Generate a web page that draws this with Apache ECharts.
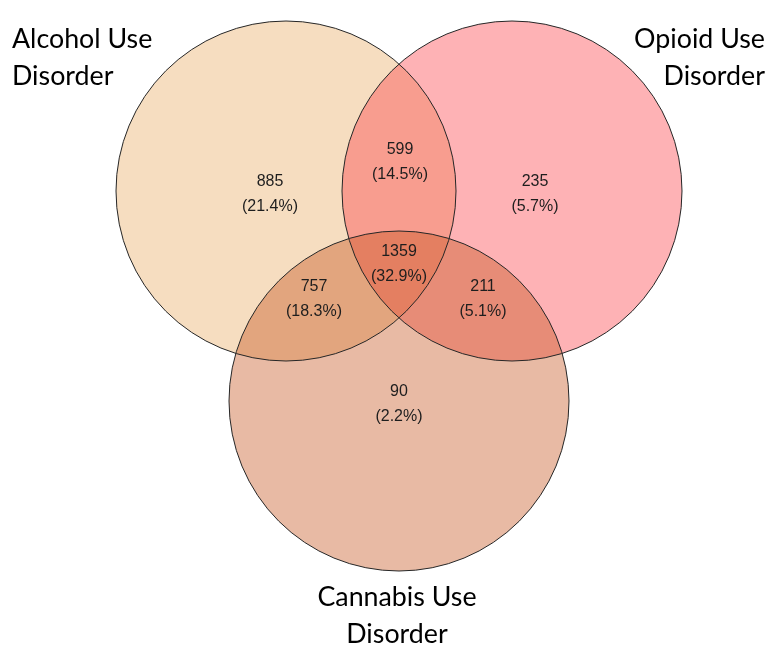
<!DOCTYPE html>
<html>
<head>
<meta charset="utf-8">
<script src="https://cdn.jsdelivr.net/npm/echarts@6/dist/echarts.min.js"></script>
<style>
html,body{margin:0;padding:0;background:#fff;}
#chart{width:767px;height:650px;}
</style>
</head>
<body>
<div id="chart"></div>
<script>
// ---- data ----
const setNames = ['Alcohol Use\nDisorder', 'Opioid Use\nDisorder', 'Cannabis Use\nDisorder'];
// regions: A only, O only, A∩O, C only, A∩C, O∩C, A∩O∩C
const regionKeys = ['A', 'O', 'AO', 'C', 'AC', 'OC', 'AOC'];
const regionCounts = [885, 235, 599, 90, 757, 211, 1359];

// ---- layout (pixel space of the 767x650 canvas) ----
const circleCenters = [[286, 191], [512, 191], [399, 401]];
const circleRadius = 170;
const regionLabelPos = [[270, 194], [535, 194], [400, 162], [399, 404], [314, 299], [483, 299], [399, 264]];
const setLabelPos = [[12, 58, 'left'], [765, 58, 'right'], [397, 616, 'center']];
const setColors = ['rgba(233,170,98,0.4)', 'rgba(253,63,70,0.4)', 'rgba(198,83,28,0.4)'];

const total = regionCounts.reduce((a, b) => a + b, 0);
const regionData = regionKeys.map((k, i) => [
  regionLabelPos[i][0], regionLabelPos[i][1], regionCounts[i],
  (regionCounts[i] / total * 100).toFixed(1)
]);
const circleData = setNames.map((n, i) => [circleCenters[i][0], circleCenters[i][1], circleRadius, i]);
const setLabelData = setNames.map((n, i) => [setLabelPos[i][0], setLabelPos[i][1], i]);

const chart = echarts.init(document.getElementById('chart'), null, {renderer: 'canvas'});

function circleItem(fill, stroke) {
  return function (params, api) {
    const c = api.coord([api.value(0), api.value(1)]);
    const r = api.size([api.value(2), 0])[0];
    const i = api.value(3);
    return {
      type: 'circle',
      shape: {cx: c[0], cy: c[1], r: r},
      style: {
        fill: fill ? setColors[i] : 'none',
        stroke: stroke ? '#262626' : 'none',
        lineWidth: stroke ? 1 : 0
      },
      silent: true
    };
  };
}

chart.setOption({
  animation: false,
  backgroundColor: '#ffffff',
  grid: {left: 0, right: 0, top: 0, bottom: 0},
  xAxis: {type: 'value', min: 0, max: 767, show: false},
  yAxis: {type: 'value', min: 0, max: 650, inverse: true, show: false},
  series: [
    {
      type: 'custom', name: 'fills', data: circleData,
      renderItem: circleItem(true, false), clip: false
    },
    {
      type: 'custom', name: 'outlines', data: circleData,
      renderItem: circleItem(false, true), clip: false
    },
    {
      type: 'custom', name: 'counts', data: regionData, clip: false,
      renderItem: function (params, api) {
        const c = api.coord([api.value(0), api.value(1)]);
        return {
          type: 'text',
          x: c[0], y: c[1],
          style: {
            text: api.value(2) + '\n(' + regionData[params.dataIndex][3] + '%)',
            align: 'center', verticalAlign: 'middle',
            fontFamily: 'Liberation Sans, Arial, sans-serif',
            fontSize: 16, lineHeight: 25, fill: '#1e1e1e'
          },
          silent: true
        };
      }
    },
    {
      type: 'custom', name: 'sets', data: setLabelData, clip: false,
      renderItem: function (params, api) {
        const c = api.coord([api.value(0), api.value(1)]);
        const i = api.value(2);
        return {
          type: 'text',
          x: c[0], y: c[1],
          style: {
            text: setNames[i],
            align: setLabelPos[i][2], verticalAlign: 'middle',
            fontFamily: 'Lato, sans-serif',
            fontSize: 26.8, lineHeight: 37, fill: '#000000'
          },
          silent: true
        };
      }
    }
  ]
});
</script>
</body>
</html>
